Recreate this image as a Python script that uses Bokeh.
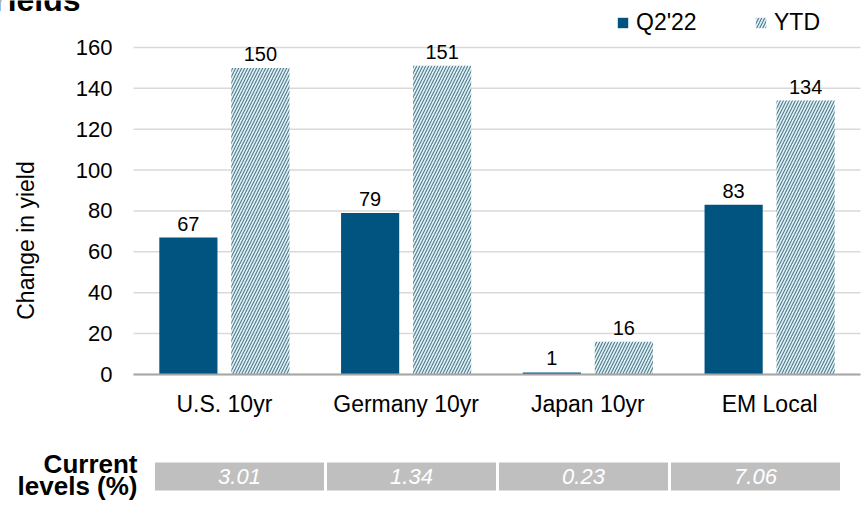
import math
from bokeh.plotting import figure
from bokeh.models import (ColumnDataSource, Range1d, FixedTicker, LabelSet, Label)
from bokeh.embed import file_html
from bokeh.resources import INLINE
from bokeh.core.properties import value

# ---- data ----
categories = ["U.S. 10yr", "Germany 10yr", "Japan 10yr", "EM Local"]
q2_22 = [67, 79, 1, 83]
ytd = [150, 151, 16, 134]
current_levels = [3.01, 1.34, 0.23, 7.06]
y_ticks = [0, 20, 40, 60, 80, 100, 120, 140, 160]

FONT = "Liberation Sans"
BLUE = "#00547F"
HATCH_BG = "#DCF2F7"
HATCH_FG = "#56798A"

n = len(categories)
centers = [i + 0.5 for i in range(n)]
off = 0.198
bw = 0.32

src = ColumnDataSource(dict(
    xq=[c - off for c in centers],
    xy=[c + off for c in centers],
    q2=q2_22,
    ytd=ytd,
    q2_lbl=[str(v) for v in q2_22],
    ytd_lbl=[str(v) for v in ytd],
))

PX_X = 181.75   # pixels per category
PX_Y = 2.044    # pixels per yield unit
W, H = 861, 507
LEFT, ZERO_Y = 133, 374

p = figure(x_range=Range1d(-LEFT / PX_X, (W - LEFT) / PX_X),
           y_range=Range1d(-(H - ZERO_Y) / PX_Y, ZERO_Y / PX_Y),
           width=W, height=H, output_backend="svg", toolbar_location=None,
           min_border=0, min_border_left=0, min_border_right=0,
           min_border_top=0, min_border_bottom=0)
p.outline_line_color = None
p.xgrid.visible = False
p.ygrid.visible = False

# horizontal gridlines at the y ticks, across the category span
p.segment(x0=0, x1=n, y0=y_ticks, y1=y_ticks, line_color="#D9D9D9",
          line_width=1.5, level="underlay")

p.vbar(x="xq", top="q2", width=bw, source=src, fill_color=BLUE,
       line_color=None, legend_label="Q2'22")
p.vbar(x="xy", top="ytd", width=bw, source=src, fill_color=HATCH_BG,
       line_color=None, hatch_pattern="/", hatch_color=HATCH_FG,
       hatch_scale=6, hatch_weight=1.1, legend_label="YTD")

for xcol, col, lbl in (("xq", "q2", "q2_lbl"), ("xy", "ytd", "ytd_lbl")):
    p.add_layout(LabelSet(x=xcol, y=col, text=lbl, source=src,
                          text_align="center", text_baseline="alphabetic",
                          y_offset=7, text_font=value(FONT),
                          text_font_size="20px", text_color="#000000"))

# y axis, fixed at the left edge of the category span
p.yaxis.fixed_location = 0
p.yaxis.ticker = FixedTicker(ticks=y_ticks)
p.yaxis.axis_line_color = None
p.yaxis.major_tick_line_color = None
p.yaxis.minor_tick_line_color = None
p.yaxis.major_tick_out = 0
p.yaxis.major_tick_in = 0
p.yaxis.major_label_text_font = FONT
p.yaxis.major_label_text_font_size = "22px"
p.yaxis.major_label_text_color = "#000000"
p.yaxis.major_label_standoff = 21

# x axis, fixed at y = 0
p.xaxis.fixed_location = 0
p.xaxis.bounds = (0, n)
p.xaxis.ticker = FixedTicker(ticks=centers)
p.xaxis.major_label_overrides = {c: cat for c, cat in zip(centers, categories)}
p.xaxis.axis_line_color = "#A6A6A6"
p.xaxis.axis_line_width = 2
p.xaxis.major_tick_line_color = None
p.xaxis.minor_tick_line_color = None
p.xaxis.major_tick_out = 0
p.xaxis.major_tick_in = 0
p.xaxis.major_label_text_font = FONT
p.xaxis.major_label_text_font_size = "23px"
p.xaxis.major_label_text_color = "#000000"
p.xaxis.major_label_standoff = 16

# y axis title
p.add_layout(Label(x=(25 - LEFT) / PX_X, y=(ZERO_Y - 240) / PX_Y,
                   text="Change in yield", angle=math.pi / 2,
                   text_align="center", text_baseline="middle",
                   text_font=FONT, text_font_size="23px", text_color="#000000"))

# chart title, cut at the top-left like the reference
p.add_layout(Label(x=(-13 - LEFT) / PX_X, y=(ZERO_Y + 1) / PX_Y,
                   text="Yields", text_align="left",
                   text_baseline="alphabetic", text_font=FONT,
                   text_font_size="32px", text_font_style="bold",
                   text_color="#000000"))

# legend
lg = p.legend[0]
lg.orientation = "horizontal"
lg.location = "top_right"
lg.border_line_color = None
lg.background_fill_alpha = 0
lg.label_text_font = FONT
lg.label_text_font_size = "23px"
lg.label_text_color = "#000000"
lg.glyph_width = 13
lg.glyph_height = 13
lg.label_standoff = 7
lg.label_width = 78
lg.spacing = 40
lg.padding = 0
lg.margin = 9

# ---- current levels strip ----
box_step = 172 / PX_X
box_x0 = (239 - LEFT) / PX_X
strip_y = (ZERO_Y - 476) / PX_Y
lsrc = ColumnDataSource(dict(
    x=[box_x0 + box_step * i for i in range(n)],
    lvl=["%.2f" % v for v in current_levels]))
p.rect(x="x", y=strip_y, width=169 / PX_X, height=28 / PX_Y, source=lsrc,
       fill_color="#BFBFBF", line_color=None)
p.text(x="x", y=strip_y, text="lvl", source=lsrc, text_align="center",
       text_baseline="middle", text_font=value(FONT), text_font_size="22px",
       text_font_style="italic", text_color="white")
p.add_layout(Label(x=(137 - LEFT) / PX_X, y=(ZERO_Y - 463) / PX_Y,
                   text="Current", text_align="right",
                   text_baseline="alphabetic", text_font=FONT,
                   text_font_size="26px", text_font_style="bold",
                   text_color="#000000"))
p.add_layout(Label(x=(137 - LEFT) / PX_X, y=(ZERO_Y - 485) / PX_Y,
                   text="levels (%)", text_align="right",
                   text_baseline="alphabetic", text_font=FONT,
                   text_font_size="26px", text_font_style="bold",
                   text_color="#000000"))

open("out.html", "w").write(file_html(p, INLINE))
